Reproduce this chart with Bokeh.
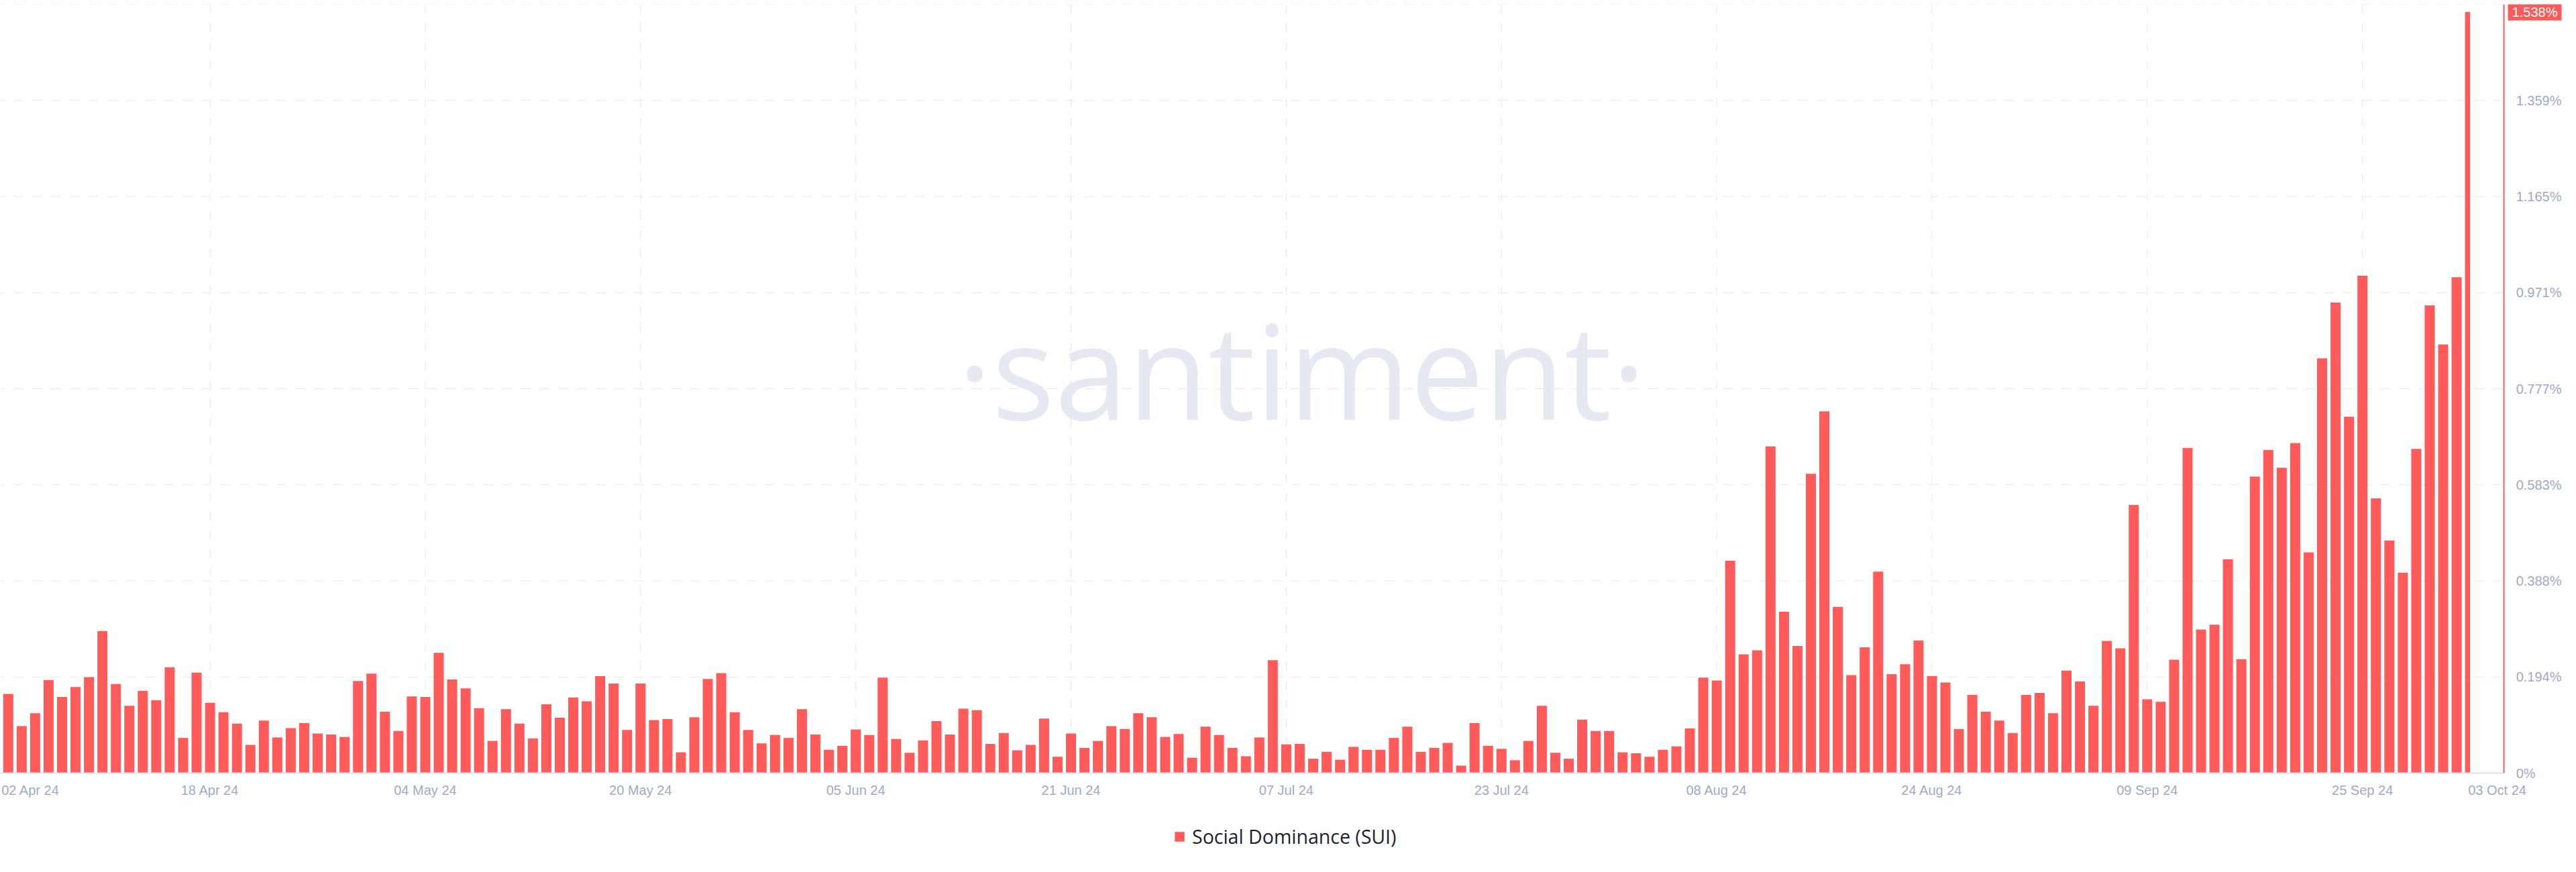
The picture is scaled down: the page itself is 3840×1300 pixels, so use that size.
import datetime as dt
from bokeh.plotting import figure
from bokeh.models import (Range1d, FixedTicker, Label, Legend, LegendItem,
                          ColumnDataSource, LinearAxis)
from bokeh.embed import file_html
from bokeh.resources import INLINE

# ---------------- data ----------------
first_day = "2024-04-03"
social_dominance = [
    # 03 Apr - 04 May
    0.160, 0.095, 0.121, 0.188, 0.154, 0.174, 0.194, 0.287, 0.180, 0.136,
    0.166, 0.147, 0.214, 0.071, 0.203, 0.142, 0.123, 0.100, 0.057, 0.106,
    0.072, 0.091, 0.101, 0.080, 0.078, 0.073, 0.186, 0.201, 0.124, 0.085,
    0.155, 0.154,
    # 05 May - 04 Jun
    0.243, 0.189, 0.171, 0.131, 0.065, 0.129, 0.100, 0.070, 0.139, 0.112,
    0.153, 0.145, 0.196, 0.181, 0.087, 0.181, 0.107, 0.109, 0.042, 0.113,
    0.190, 0.202, 0.123, 0.087, 0.060, 0.077, 0.071, 0.129, 0.078, 0.047,
    0.055,
    # 05 Jun - 05 Jul
    0.088, 0.077, 0.193, 0.069, 0.041, 0.066, 0.105, 0.078, 0.130, 0.127,
    0.059, 0.081, 0.046, 0.057, 0.110, 0.033, 0.080, 0.051, 0.065, 0.095,
    0.089, 0.121, 0.113, 0.073, 0.079, 0.031, 0.094, 0.077, 0.051, 0.034,
    0.072,
    # 06 Jul - 05 Aug
    0.228, 0.058, 0.059, 0.029, 0.043, 0.027, 0.053, 0.047, 0.047, 0.071,
    0.094, 0.043, 0.051, 0.061, 0.015, 0.101, 0.055, 0.049, 0.026, 0.065,
    0.136, 0.041, 0.029, 0.108, 0.085, 0.085, 0.042, 0.040, 0.033, 0.047,
    0.054,
    # 06 Aug - 04 Sep
    0.090, 0.193, 0.187, 0.429, 0.240, 0.248, 0.660, 0.326, 0.257, 0.605,
    0.731, 0.336, 0.198, 0.254, 0.407, 0.200, 0.220, 0.268, 0.196, 0.183,
    0.089, 0.158, 0.124, 0.106, 0.081, 0.158, 0.162, 0.121, 0.207, 0.185,
    # 05 Sep - 03 Oct
    0.136, 0.267, 0.252, 0.542, 0.149, 0.144, 0.229, 0.657, 0.290, 0.300,
    0.432, 0.230, 0.599, 0.653, 0.617, 0.667, 0.446, 0.838, 0.951, 0.720,
    1.005, 0.555, 0.470, 0.405, 0.655, 0.945, 0.866, 1.002, 1.538,
]
x_tick_dates = ["2024-04-02", "2024-04-18", "2024-05-04", "2024-05-20", "2024-06-05",
                "2024-06-21", "2024-07-07", "2024-07-23", "2024-08-08", "2024-08-24",
                "2024-09-09", "2024-09-25", "2024-10-03"]
x_tick_labels = ["02 Apr 24", "18 Apr 24", "04 May 24", "20 May 24", "05 Jun 24",
                 "21 Jun 24", "07 Jul 24", "23 Jul 24", "08 Aug 24", "24 Aug 24",
                 "09 Sep 24", "25 Sep 24", "03 Oct 24"]
y_tick_values = [0, 0.19418, 0.38835, 0.58253, 0.77670, 0.97088, 1.16505, 1.35923, 1.55340]
y_tick_labels = ["0%", "0.194%", "0.388%", "0.583%", "0.777%", "0.971%", "1.165%", "1.359%", "1.553%"]
last_value_label = "1.538%"
series_name = "Social Dominance (SUI)"
watermark_text = "\u00b7santiment\u00b7"

# ---------------- helpers ----------------
DAY = 86400000.0
EPOCH = dt.datetime(1970, 1, 1)


def ms(s):
    return (dt.datetime.strptime(s, "%Y-%m-%d") - EPOCH).total_seconds() * 1000.0


t0 = ms(first_day)
dates = [t0 + i * DAY for i in range(len(social_dominance))]
t_last = dates[-1]
half_w = 0.374 * DAY
src = ColumnDataSource(dict(
    left=[d - half_w for d in dates],
    right=[min(d + half_w, t_last) for d in dates],
    top=social_dominance,
    bottom=[0] * len(social_dominance),
))

RED = "#FF5B5B"
TICK_COLOR = "#9FAAC4"
GRID_COLOR = "#E6E8F1"
FONT = "Liberation Sans"

# The frame covers the whole canvas below the top border; axes are pinned inside it.
x_start = t0 - 0.588 * DAY
x_axis_pos = t0 + 185.52 * DAY
x_box_pos = t0 + 185.82 * DAY
x_end = t0 + 190.50 * DAY
y_top = y_tick_values[-1]
y_bottom = -0.1762

p = figure(
    x_axis_type="datetime",
    x_range=Range1d(x_start, x_end),
    y_range=Range1d(y_bottom, y_top),
    frame_width=3832, frame_height=1276,
    min_border_left=0, min_border_top=6, min_border_right=0, min_border_bottom=0,
    y_axis_location="right",
    output_backend="svg", toolbar_location=None,
    background_fill_color="white", border_fill_color="white",
    outline_line_color=None,
)
p.xgrid.visible = False
p.ygrid.visible = False

# watermark (lowest layer)
p.add_layout(Label(
    x=1940, y=733, x_units="screen", y_units="screen", text=watermark_text,
    text_align="center", text_baseline="alphabetic",
    text_font="Open Sans", text_font_size="196px",
    text_color="#E6E9F2", level="image",
))

grid_ticks = [ms(d) for d in x_tick_dates[1:-1]]

# dashed grid lines limited to the data area
p.segment(x0=[x_start] * len(y_tick_values), x1=[x_axis_pos] * len(y_tick_values),
          y0=y_tick_values, y1=y_tick_values,
          line_color=GRID_COLOR, line_width=1, line_dash="14 14", line_dash_offset=8)
p.segment(x0=grid_ticks, x1=grid_ticks,
          y0=[y_top] * len(grid_ticks), y1=[0] * len(grid_ticks),
          line_color=GRID_COLOR, line_width=1, line_dash="14 14", line_dash_offset=0)

bars = p.quad(left="left", right="right", top="top", bottom="bottom", source=src,
              fill_color=RED, line_color=None)

# x axis pinned at 0: dates every 16 days; first/last labels sit beside their dates
first_label_pos = ms(x_tick_dates[0]) + 2.656 * DAY
last_label_pos = ms(x_tick_dates[-1]) + 2.02 * DAY
axis_ticks = [first_label_pos] + grid_ticks + [last_label_pos]
xa = p.xaxis[0]
xa.fixed_location = 0
xa.ticker = FixedTicker(ticks=axis_ticks, minor_ticks=[])
xa.major_label_overrides = {t: lab for t, lab in zip(axis_ticks, x_tick_labels)}
xa.bounds = (x_start, x_axis_pos)
xa.axis_line_color = "#DDE1EC"
xa.axis_line_width = 2
xa.major_tick_line_color = None
xa.minor_tick_line_color = None
xa.major_label_standoff = 8
xa.major_label_text_font = FONT
xa.major_label_text_font_size = "20px"
xa.major_label_text_color = TICK_COLOR

# y axis pinned at the end of the data area
ya = p.yaxis[0]
ya.fixed_location = x_axis_pos
ya.bounds = (0, y_top)
ya.ticker = FixedTicker(ticks=y_tick_values, minor_ticks=[])
ya.major_label_overrides = {v: lab for v, lab in zip(y_tick_values, y_tick_labels)}
ya.axis_line_color = RED
ya.axis_line_width = 2
ya.major_tick_line_color = None
ya.minor_tick_line_color = None
ya.major_label_standoff = 12
ya.major_label_text_font = FONT
ya.major_label_text_font_size = "20px"
ya.major_label_text_color = TICK_COLOR

# last value marker: a second pinned right axis whose single tick is a red box
box_axis = LinearAxis(
    ticker=FixedTicker(ticks=[social_dominance[-1]], minor_ticks=[]),
    major_label_overrides={social_dominance[-1]: last_value_label},
    fixed_location=x_box_pos,
    axis_line_color=None,
    major_tick_in=0, major_tick_out=80,
    major_tick_line_width=26, major_tick_line_color=RED,
    minor_tick_line_color=None,
    major_label_standoff=-74,
    major_label_text_font=FONT, major_label_text_font_size="20px",
    major_label_text_color="white",
)
p.add_layout(box_axis, "right")

# legend under the axis
legend = Legend(
    items=[LegendItem(label=series_name, renderers=[bars])],
    location=(1749, 16), orientation="horizontal",
    padding=0, margin=0, border_line_color=None, background_fill_alpha=0,
    glyph_width=18, glyph_height=18, label_standoff=10, label_height=18,
    label_text_font="Open Sans", label_text_font_size="28.5px", label_text_color="#1B1F30",
)
p.add_layout(legend)

open("out.html", "w").write(file_html(p, INLINE))
